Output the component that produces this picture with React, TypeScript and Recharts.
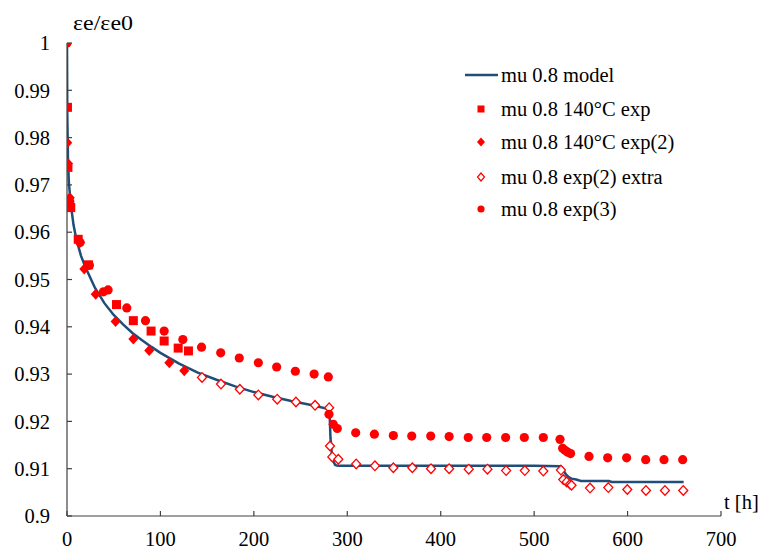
import React from 'react';
import { ComposedChart, Line, Scatter, XAxis, YAxis } from 'recharts';

// ---- data ----
const modelT = [0, 0.3, 1, 2, 4, 7, 10, 15, 20, 30, 40, 50, 60, 70, 80, 90, 100, 120, 140, 160, 180, 200, 220, 240, 260, 280, 281, 282, 284, 287, 290, 300, 400, 500, 528, 531, 534, 537, 540, 545, 550, 580, 583, 620, 660];
const modelV = [1.0, 0.985, 0.976, 0.9705, 0.966, 0.9615, 0.9585, 0.955, 0.9525, 0.9482, 0.945, 0.9425, 0.9405, 0.9387, 0.9372, 0.9358, 0.9345, 0.9322, 0.9303, 0.9288, 0.9274, 0.9262, 0.9252, 0.9243, 0.9235, 0.9226, 0.9222, 0.9165, 0.912, 0.9108, 0.9106, 0.9106, 0.9106, 0.9106, 0.9105, 0.9098, 0.9088, 0.9082, 0.9079, 0.9077, 0.9074, 0.9074, 0.9072, 0.9072, 0.9072];

const expT = [0.5, 1, 4, 12, 23, 53, 71, 90, 104, 119, 130];
const expV = [0.9864, 0.9737, 0.9652, 0.9585, 0.9531, 0.9447, 0.9413, 0.9391, 0.937, 0.9355, 0.9349];

const exp2T = [0, 0.3, 1, 3, 14, 18.5, 30.7, 52, 71, 88, 109.5, 125.5];
const exp2V = [1.0, 0.9789, 0.9745, 0.9673, 0.9579, 0.9522, 0.9469, 0.9411, 0.9374, 0.935, 0.9324, 0.9307];

const extraT = [144.5, 164.8, 185, 204.8, 225, 245, 265.5, 280.6, 281.5, 284, 290.4, 309.5, 329.6, 349.3, 369.6, 389.6, 409, 430, 450, 470, 490, 509.8, 528.7, 531.2, 534.8, 538.4, 540, 559.8, 579.4, 599.7, 619.7, 640, 659.6];
const extraV = [0.9293, 0.9279, 0.9268, 0.9256, 0.9247, 0.9241, 0.9234, 0.9229, 0.9148, 0.9125, 0.912, 0.911, 0.9106, 0.9102, 0.9102, 0.91, 0.91, 0.9099, 0.9099, 0.9096, 0.9096, 0.9095, 0.9097, 0.9077, 0.9072, 0.9067, 0.9065, 0.9059, 0.906, 0.9056, 0.9054, 0.9054, 0.9054];

const exp3T = [0, 3, 14, 24, 39, 44, 64, 84, 104, 124, 144, 164.5, 184.4, 204.8, 224.4, 244.4, 264.5, 279.7, 280.4, 285, 289.3, 309, 329, 349.3, 369, 389.3, 409, 429.5, 449.2, 469.5, 489.5, 509.8, 527.7, 530.5, 533, 536, 539, 558.7, 578.7, 599, 619.4, 639, 659];
const exp3V = [1.0, 0.9665, 0.9578, 0.953, 0.9474, 0.9478, 0.944, 0.9413, 0.9391, 0.9373, 0.9357, 0.9345, 0.9334, 0.9324, 0.9315, 0.9306, 0.93, 0.9294, 0.9215, 0.9194, 0.9185, 0.9176, 0.9173, 0.917, 0.9169, 0.9169, 0.9168, 0.9166, 0.9166, 0.9166, 0.9166, 0.9166, 0.9162, 0.9143, 0.9139, 0.9135, 0.9132, 0.9126, 0.9123, 0.9123, 0.9119, 0.9119, 0.9119];

const xTicks = [0, 100, 200, 300, 400, 500, 600, 700];
const yTicks = [0.9, 0.91, 0.92, 0.93, 0.94, 0.95, 0.96, 0.97, 0.98, 0.99, 1];

const seriesNames = ['mu 0.8 model', 'mu 0.8 140°C exp', 'mu 0.8 140°C exp(2)', 'mu 0.8 exp(2) extra', 'mu 0.8 exp(3)'];
const yTitle = 'εe/εe0';
const xTitle = 't [h]';

const RED = '#FF0000';
const BLUE = '#1F4E79';
const AXIS = '#404040';
const FONT = "'Liberation Serif', 'Times New Roman', serif";
const FS = 20.5;

const toPts = (ts: number[], vs: number[]) => ts.map((t, i) => ({ t, v: vs[i] }));
const modelData = toPts(modelT, modelV);
const expData = toPts(expT, expV);
const exp2Data = toPts(exp2T, exp2V);
const extraData = toPts(extraT, extraV);
const exp3Data = toPts(exp3T, exp3V);

const SquareShape = (p: any) => <rect x={p.cx - 4.5} y={p.cy - 4.5} width={9} height={9} fill={RED} />;
const DiamondShape = (p: any) => (
  <polygon points={`${p.cx},${p.cy - 5.5} ${p.cx + 5},${p.cy} ${p.cx},${p.cy + 5.5} ${p.cx - 5},${p.cy}`} fill={RED} />
);
const OpenDiamondShape = (p: any) => (
  <polygon points={`${p.cx},${p.cy - 4.8} ${p.cx + 4.5},${p.cy} ${p.cx},${p.cy + 4.8} ${p.cx - 4.5},${p.cy}`} fill="#fff" stroke={RED} strokeWidth={1.3} />
);
const CircleShape = (p: any) => <circle cx={p.cx} cy={p.cy} r={4.6} fill={RED} />;

const XTick = (p: any) => (
  <text x={p.x} y={p.y} dy="0.71em" textAnchor="middle" style={{ fontFamily: FONT, fontSize: FS }} fill="#000">
    {String(p.payload.value)}
  </text>
);
const YTick = (p: any) => (
  <text x={p.x} y={p.y} dy="0.355em" textAnchor="end" style={{ fontFamily: FONT, fontSize: FS }} fill="#000">
    {String(p.payload.value)}
  </text>
);

const LegendBox = () => {
  const rowY = [75, 109, 142, 177, 209];
  return (
    <svg width={761} height={549} style={{ position: 'absolute', left: 0, top: 0, pointerEvents: 'none' }}>
      <line x1={465} x2={498} y1={rowY[0]} y2={rowY[0]} stroke={BLUE} strokeWidth={2.5} />
      <rect x={477.5} y={rowY[1] - 3.5} width={7} height={7} fill={RED} />
      <polygon points={`481,${rowY[2] - 4.5} 485,${rowY[2]} 481,${rowY[2] + 4.5} 477,${rowY[2]}`} fill={RED} />
      <polygon points={`481,${rowY[3] - 4} 484.5,${rowY[3]} 481,${rowY[3] + 4} 477.5,${rowY[3]}`} fill="#fff" stroke={RED} strokeWidth={1.2} />
      <circle cx={481} cy={rowY[4]} r={3.6} fill={RED} />
      {seriesNames.map((n, i) => (
        <text key={n} x={501} y={rowY[i] + 6.5} style={{ fontFamily: FONT, fontSize: FS }} fill="#000">{n}</text>
      ))}
      <text x={73} y={30} textLength={60} lengthAdjust="spacingAndGlyphs" style={{ fontFamily: FONT, fontSize: FS }} fill="#000">{yTitle}</text>
      <text x={724} y={508.5} style={{ fontFamily: FONT, fontSize: FS }} fill="#000">{xTitle}</text>
    </svg>
  );
};

export default function App() {
  return (
    <div style={{ position: 'absolute', left: 0, top: 0, width: 761, height: 549, background: '#fff', fontFamily: FONT }}>
      <ComposedChart width={761} height={549} margin={{ top: 43, right: 40, bottom: 3, left: 7 }}>
        <XAxis
          dataKey="t"
          type="number"
          domain={[0, 700]}
          ticks={xTicks}
          height={30}
          tickSize={-5}
          tickMargin={20}
          axisLine={{ stroke: AXIS, strokeWidth: 1.2 }}
          tickLine={{ stroke: AXIS, strokeWidth: 1.2 }}
          tick={XTick}
          allowDataOverflow
        />
        <YAxis
          dataKey="v"
          type="number"
          domain={[0.9, 1]}
          ticks={yTicks}
          width={60}
          tickSize={-5}
          tickMargin={22}
          axisLine={{ stroke: AXIS, strokeWidth: 1.2 }}
          tickLine={{ stroke: AXIS, strokeWidth: 1.2 }}
          tick={YTick}
          allowDataOverflow
        />
        <Line data={modelData} dataKey="v" type="linear" stroke={BLUE} strokeWidth={2.5} dot={false} activeDot={false} isAnimationActive={false} name={seriesNames[0]} />
        <Scatter data={expData} dataKey="v" shape={SquareShape} isAnimationActive={false} name={seriesNames[1]} />
        <Scatter data={exp2Data} dataKey="v" shape={DiamondShape} isAnimationActive={false} name={seriesNames[2]} />
        <Scatter data={extraData} dataKey="v" shape={OpenDiamondShape} isAnimationActive={false} name={seriesNames[3]} />
        <Scatter data={exp3Data} dataKey="v" shape={CircleShape} isAnimationActive={false} name={seriesNames[4]} />
      </ComposedChart>
      <LegendBox />
    </div>
  );
}
